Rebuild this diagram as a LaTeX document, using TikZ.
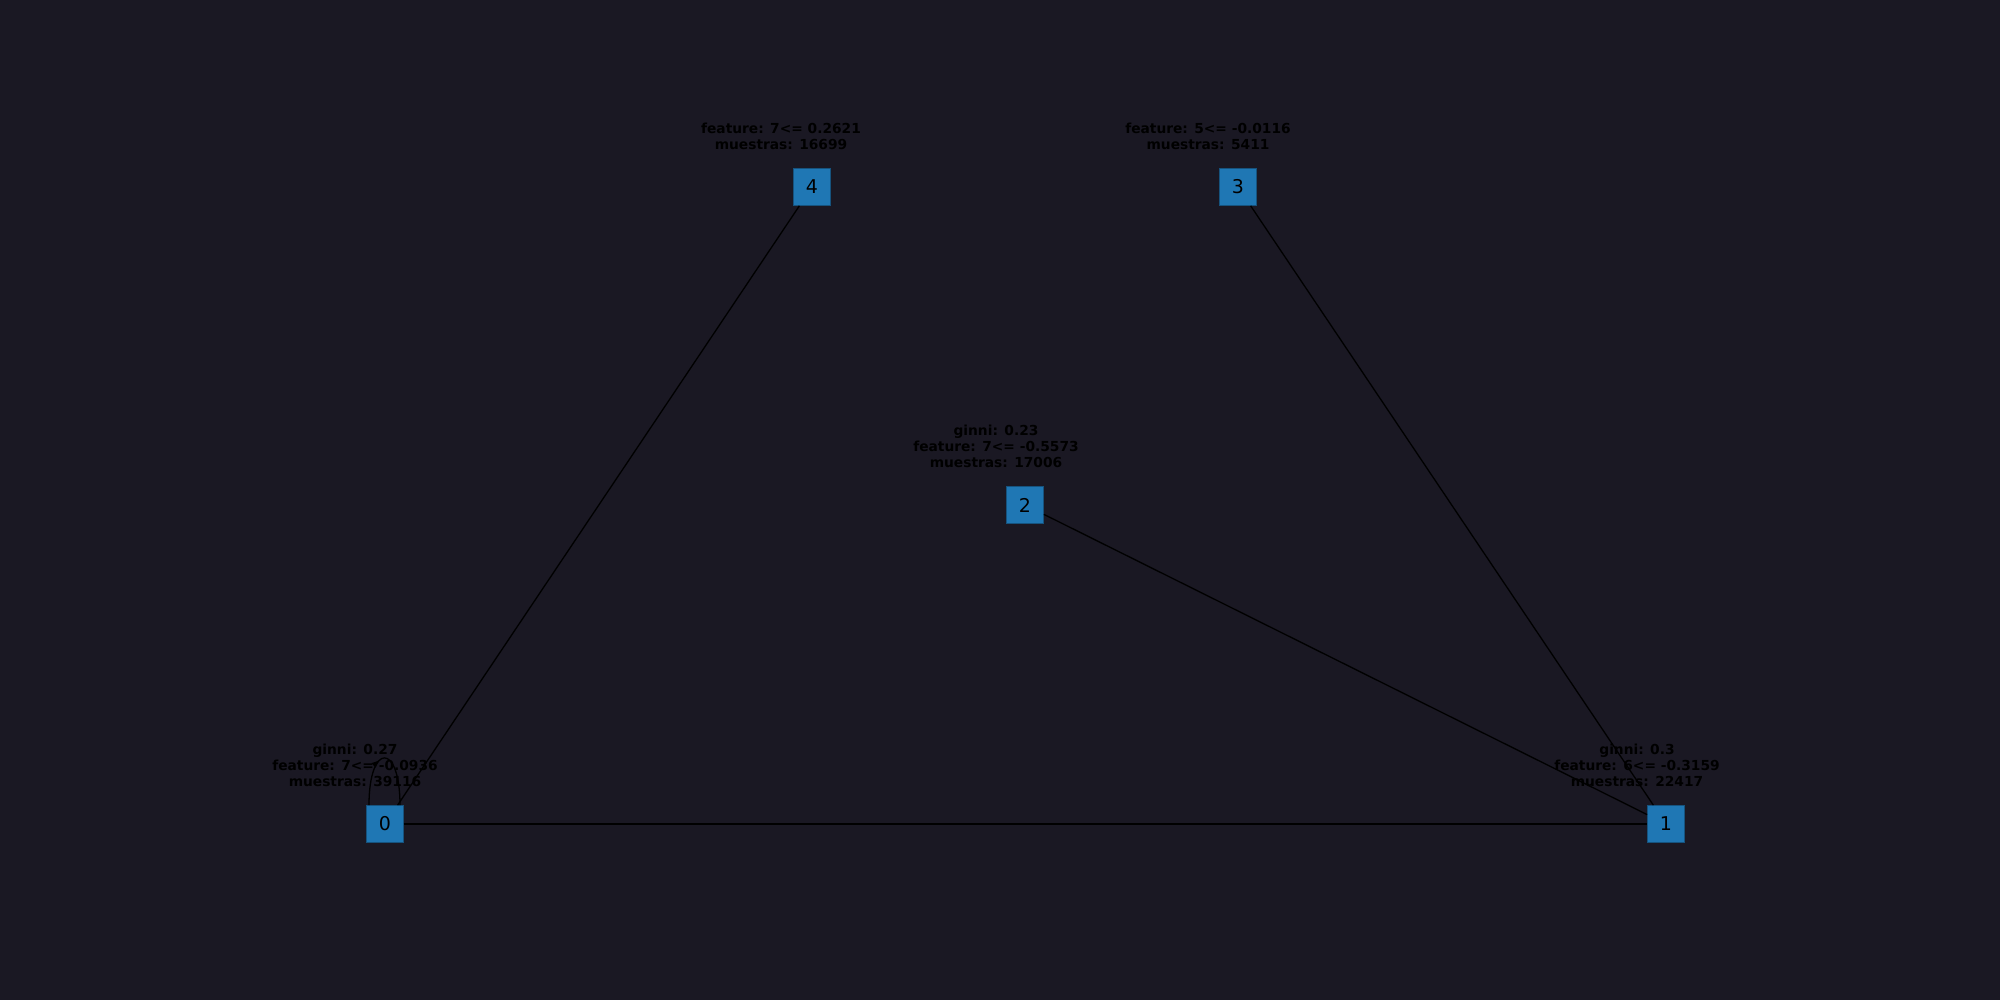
\documentclass[tikz,border=0pt]{standalone}
\usepackage{fontspec}
\setmainfont{DejaVu Sans}
\usetikzlibrary{arrows,positioning,decorations.markings}
\usepackage{xcolor}
\definecolor{bgdark}{RGB}{26,24,35}
\definecolor{nodeblue}{RGB}{31,119,180}

\begin{document}
\begin{tikzpicture}[
    vert/.style={
        rectangle,
        inner sep=0pt,
        minimum size=0.37cm,
        fill=nodeblue,
        draw=nodeblue!70!black,
        line width=0.2pt,
        font=\fontsize{5.4}{6}\selectfont
    },
    lbl/.style={
        inner sep=0pt,
        align=center,
        text=black,
        font=\fontsize{3.92}{4.55}\selectfont\bfseries
    },
    edge/.style={black, line width=0.37pt},
    loopedge/.style={edge, decoration={markings,
        mark=at position 0.45 with {\arrow[scale=0.6]{latex}}}, postaction={decorate}}
]
    \fill[bgdark] (0,0) rectangle (20,10);
    \useasboundingbox (0,0) rectangle (20,10);

    \node (n0) [vert] at (3.85, 1.76) {0};
    \node (n1) [vert] at (16.66, 1.76) {1};
    \node (n2) [vert] at (10.25, 4.95) {2};
    \node (n3) [vert] at (12.38, 8.13) {3};
    \node (n4) [vert] at (8.12, 8.13) {4};

    \node (lbl_n0) [lbl, above=0.37cm of n0.center, xshift=-0.30cm]
    {
        ginni: 0.27\\feature: 7<= -0.0936\\muestras: 39116
    };
    \node (lbl_n1) [lbl, above=0.37cm of n1.center, xshift=-0.29cm]
    {
        ginni: 0.3\\feature: 6<= -0.3159\\muestras: 22417
    };
    \node (lbl_n2) [lbl, above=0.37cm of n2.center, xshift=-0.29cm]
    {
        ginni: 0.23\\feature: 7<= -0.5573\\muestras: 17006
    };
    \node (lbl_n3) [lbl, above=0.37cm of n3.center, xshift=-0.30cm]
    {
        feature: 5<= -0.0116\\muestras: 5411
    };
    \node (lbl_n4) [lbl, above=0.37cm of n4.center, xshift=-0.31cm]
    {
        feature: 7<= 0.2621\\muestras: 16699
    };

    \draw[edge] (n0) to (n1);
    \draw[edge] (n0) to (n4);
    \draw[edge] (n1) to (n3);
    \draw[edge] (n1) to (n2);
    \draw[loopedge] ([xshift=-0.16cm]n0.north) .. controls +(0,0.63) and +(0,0.63) .. ([xshift=0.15cm]n0.north);
\end{tikzpicture}
\end{document}
